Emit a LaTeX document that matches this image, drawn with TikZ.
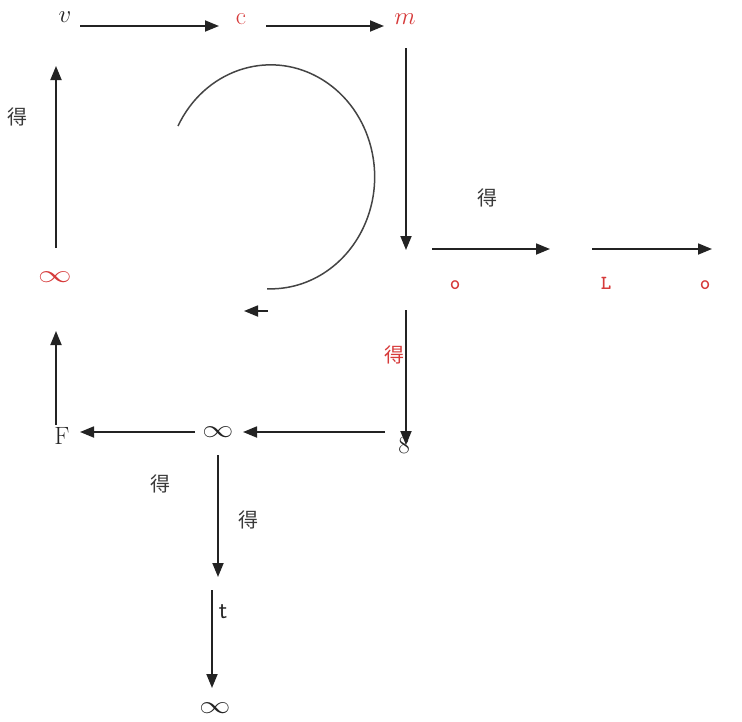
\documentclass[tikz,border=0pt]{standalone}
\usepackage{fontspec}
\newfontfamily\cjk{Noto Sans CJK SC}
\usetikzlibrary{arrows.meta}
\definecolor{refred}{RGB}{214,58,58}
\definecolor{refgray}{RGB}{35,35,35}
\begin{document}
\begin{tikzpicture}[x=1pt,y=1pt,
  conn/.style={line width=1.8pt, draw=refgray, -{Triangle[length=14pt,width=11pt]}},
  curve/.style={line width=1.5pt, draw=refgray!85},
  de/.style={inner sep=0pt, font=\cjk\fontsize{20}{20}\selectfont, text=refgray!90},
  txt/.style={inner sep=0pt, font=\fontsize{25}{25}\selectfont, text=refgray},
  redtxt/.style={inner sep=0pt, font=\fontsize{25}{25}\selectfont, text=refred},
  redtt/.style={inner sep=0pt, font=\ttfamily\bfseries\fontsize{20}{20}\selectfont, text=refred},
  infsym/.style={inner sep=0pt, font=\fontsize{25}{25}\selectfont}]
\useasboundingbox (0,0) rectangle (742,-721);

% text nodes
\node[txt] (v) at (65,-17) {$v$};
\node[redtxt] (c) at (241,-19) {c};
\node[redtxt] (m) at (405,-19) {$m$};
\node[redtt] (o1) at (455,-285) {o};
\node[redtt] (L) at (606,-283) {L};
\node[redtt] (o2) at (705,-285) {o};
\node[infsym, text=refred] (inf1) at (55,-277) {\scalebox{1.35}[1]{$\infty$}};
\node[txt] (F) at (62,-436) {F};
\node[infsym, text=refgray] (inf2) at (218,-432) {\scalebox{1.25}[1]{$\infty$}};
\node[txt] (eight) at (404,-445) {8};
\node[txt] (t) at (223,-612) {\sffamily t};
\node[infsym, text=refgray] (inf3) at (215,-708) {\scalebox{1.25}[1]{$\infty$}};

% labels
\node[de] (d1) at (18,-117) {得};
\node[de] (d2) at (487,-198) {得};
\node[de, text=refred] (d3) at (394,-355) {得};
\node[de] (d4) at (160,-484) {得};
\node[de] (d5) at (248,-520) {得};

% connector end points
\coordinate (a1s) at (80,-26);   \coordinate (a1e) at (219,-26);
\coordinate (a2s) at (266,-26);  \coordinate (a2e) at (384,-26);
\coordinate (a3s) at (406,-48);  \coordinate (a3e) at (406,-250);
\coordinate (a4s) at (432,-249); \coordinate (a4e) at (550,-249);
\coordinate (a5s) at (592,-249); \coordinate (a5e) at (712,-249);
\coordinate (a6s) at (56,-248);  \coordinate (a6e) at (56,-66);
\coordinate (a7s) at (406,-310); \coordinate (a7e) at (406,-445);
\coordinate (a8s) at (385,-432); \coordinate (a8e) at (243,-432);
\coordinate (a9s) at (195,-432); \coordinate (a9e) at (80,-432);
\coordinate (a10s) at (56,-425); \coordinate (a10e) at (56,-331);
\coordinate (a11s) at (218,-455); \coordinate (a11e) at (218,-577);
\coordinate (a12s) at (212,-590); \coordinate (a12e) at (212,-688);
\coordinate (arcs) at (178,-126);
\coordinate (sas) at (268,-311); \coordinate (sae) at (244,-311);

\draw[conn] (a1s) -- (a1e);
\draw[conn] (a2s) -- (a2e);
\draw[conn] (a3s) -- (a3e);
\draw[conn] (a4s) -- (a4e);
\draw[conn] (a5s) -- (a5e);
\draw[conn] (a6s) -- (a6e);
\draw[conn] (a7s) -- (a7e);
\draw[conn] (a8s) -- (a8e);
\draw[conn] (a9s) -- (a9e);
\draw[conn] (a10s) -- (a10e);
\draw[conn] (a11s) -- (a11e);
\draw[conn] (a12s) -- (a12e);

% cycle arc and its detached arrow head
\draw[curve] (arcs) arc[start angle=153, end angle=-92, x radius=104, y radius=112];
\draw[conn] (sas) -- (sae);
\end{tikzpicture}
\end{document}
